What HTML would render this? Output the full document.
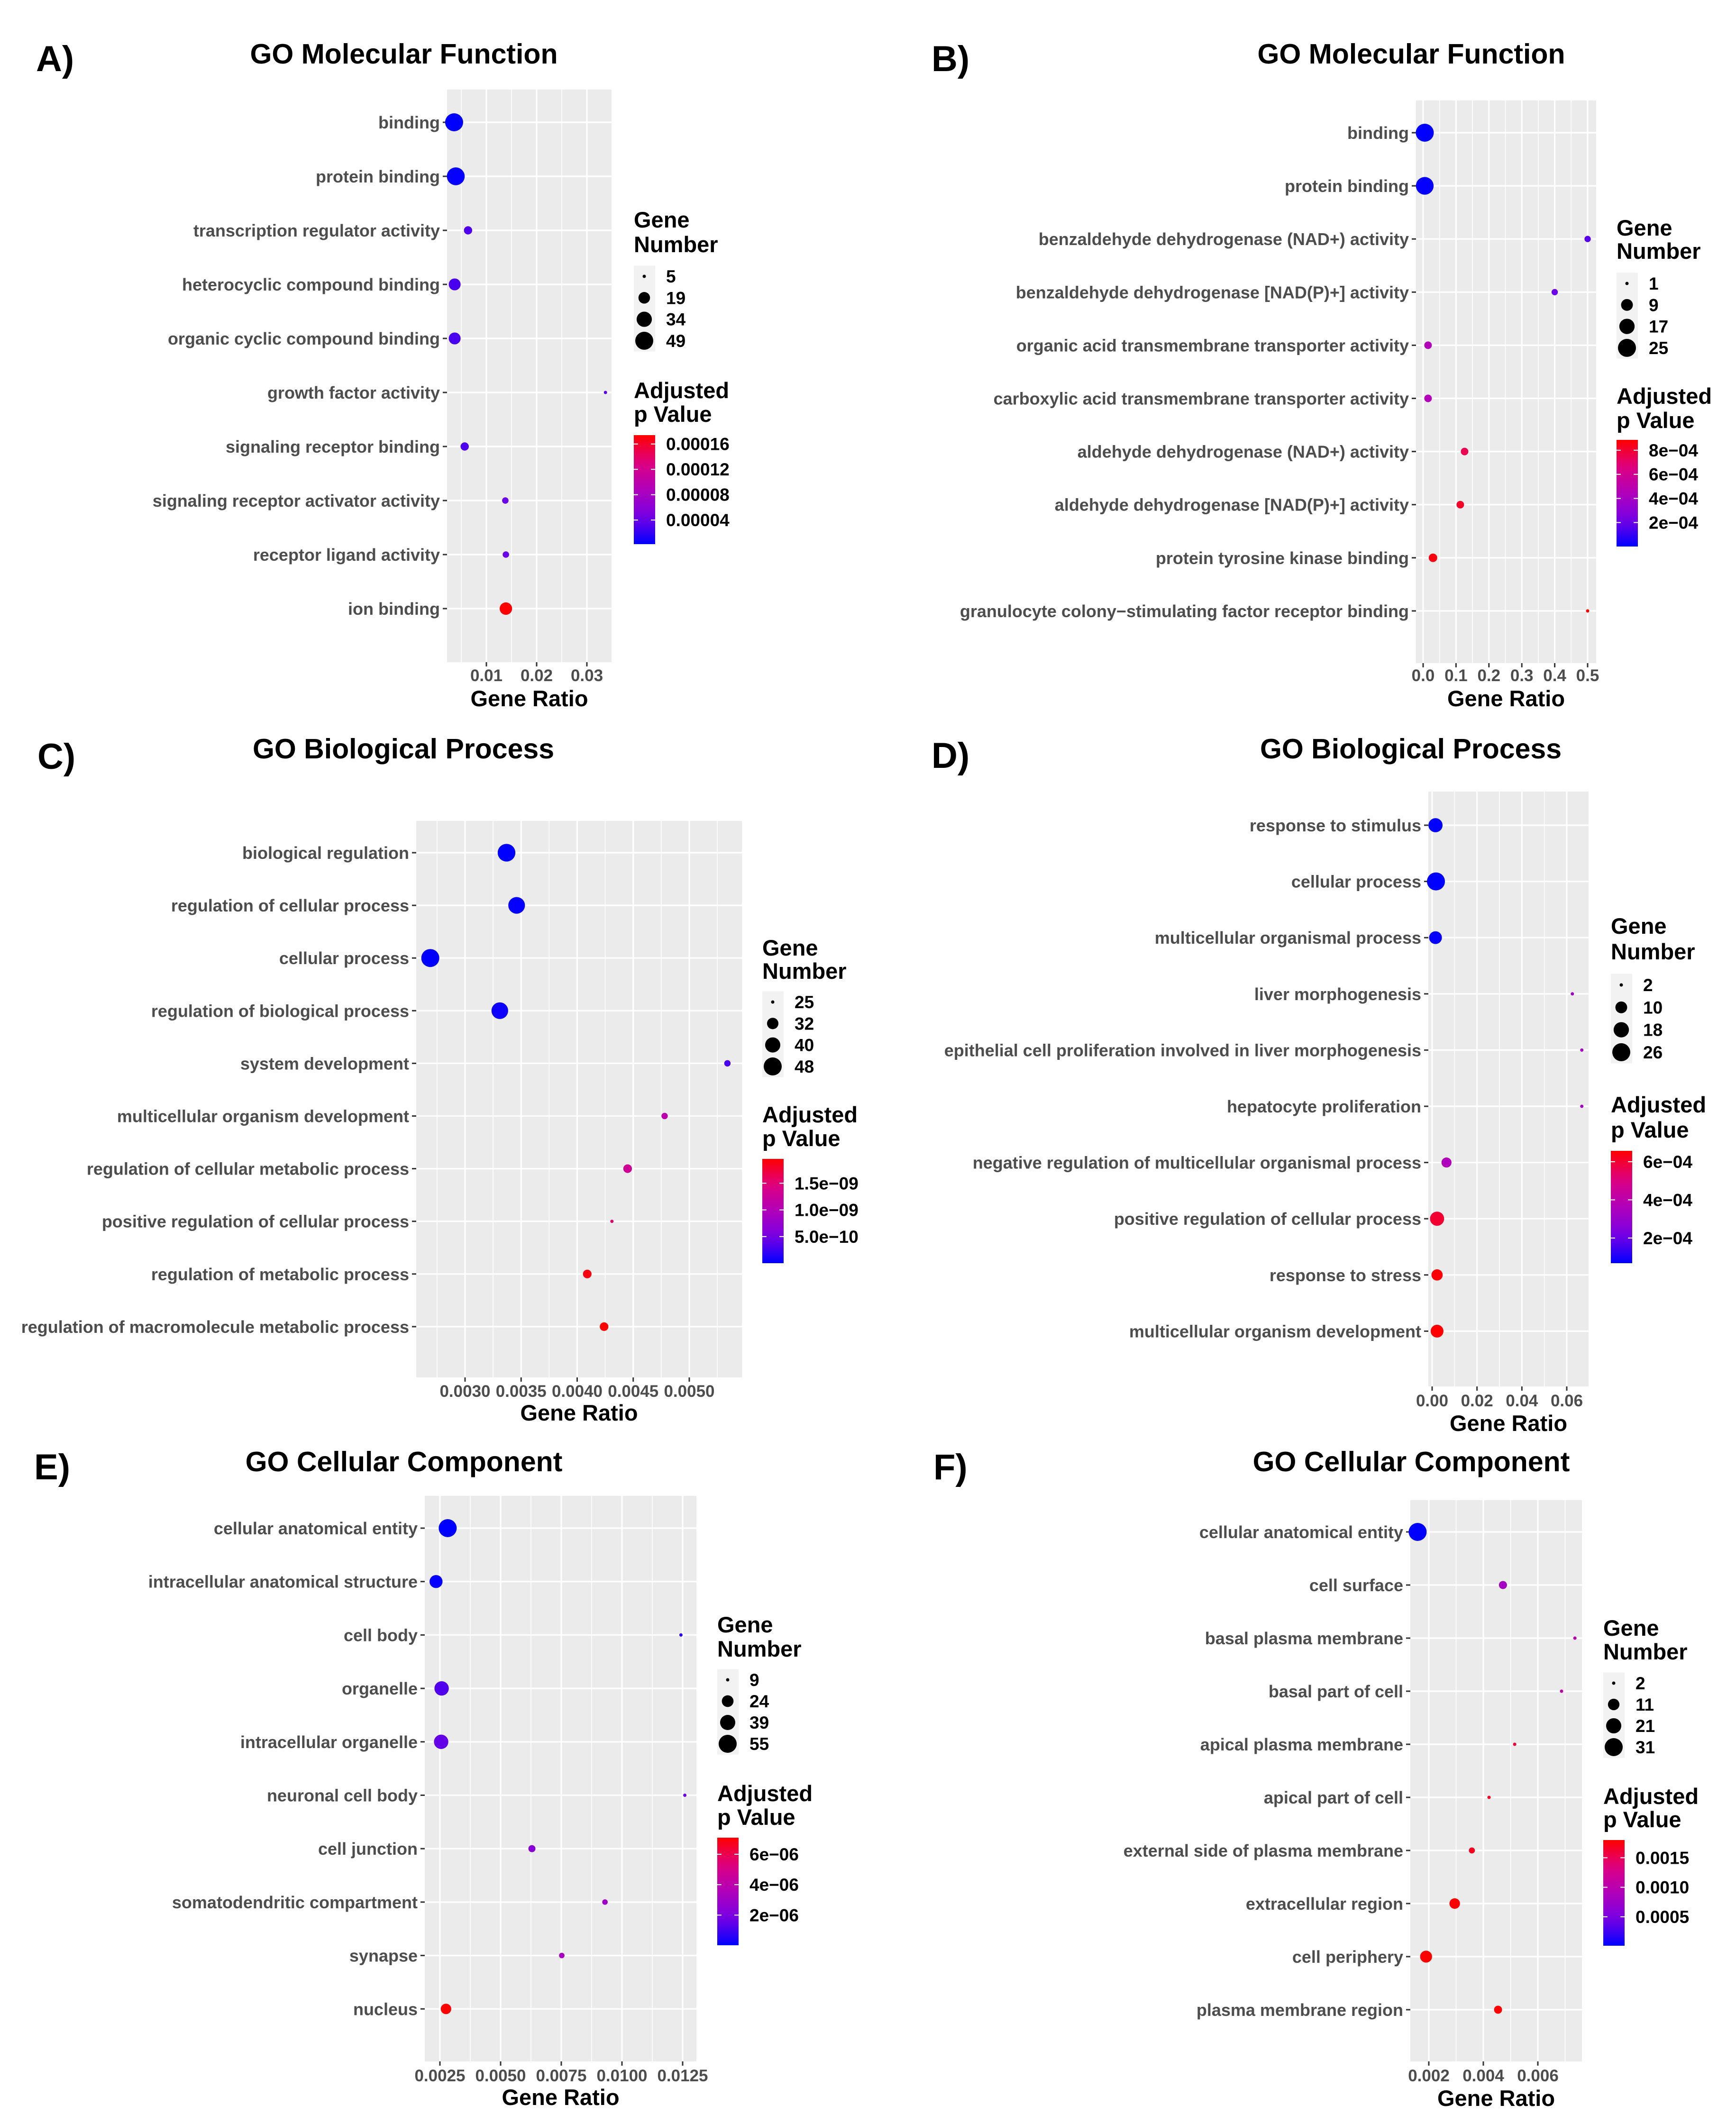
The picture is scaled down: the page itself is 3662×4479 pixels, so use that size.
<!DOCTYPE html>
<html><head><meta charset="utf-8"><title>GO enrichment dot plots</title>
<style>html,body{margin:0;padding:0;background:#fff}svg{display:block}text{font-family:"Liberation Sans",Arial,sans-serif;font-weight:bold}</style>
</head><body>
<svg id="fig" xmlns="http://www.w3.org/2000/svg" width="3662" height="4479" viewBox="0 0 3662 4479">
<defs id="defs"></defs>
</svg>
<script>
// ---------- Panel A data ----------
const catsA = ["binding","protein binding","transcription regulator activity","heterocyclic compound binding","organic cyclic compound binding","growth factor activity","signaling receptor binding","signaling receptor activator activity","receptor ligand activity","ion binding"];
const ratioA = [0.00358,0.00391,0.00635,0.00369,0.00369,0.0337,0.00568,0.01377,0.01388,0.01388];
const genesA = [49,48,10,20,20,5,10,7,7,22];
const padjA = [0.000002,0.000004,0.00003,0.000028,0.000028,0.000035,0.00003,0.00004,0.00004,0.000174];
const xTicksA = [0.01,0.02,0.03];
const xTickLabelsA = ["0.01","0.02","0.03"];
const sizeBreaksA = [5,19,34,49];
const colorBreaksA = [0.00004,0.00008,0.00012,0.00016];
const colorLabelsA = ["0.00004","0.00008","0.00012","0.00016"];
// ---------- Panel B data ----------
const catsB = ["binding","protein binding","benzaldehyde dehydrogenase (NAD+) activity","benzaldehyde dehydrogenase [NAD(P)+] activity","organic acid transmembrane transporter activity","carboxylic acid transmembrane transporter activity","aldehyde dehydrogenase (NAD+) activity","aldehyde dehydrogenase [NAD(P)+] activity","protein tyrosine kinase binding","granulocyte colony\u2212stimulating factor receptor binding"];
const ratioB = [0.005,0.005,0.5,0.4,0.015,0.015,0.126,0.113,0.03,0.5];
const genesB = [25,24,2,2,3,3,3,3,4,1];
const padjB = [0.000001,0.00001,0.00016,0.0002,0.00045,0.00045,0.00075,0.00082,0.00086,0.000886];
const xTicksB = [0,0.1,0.2,0.3,0.4,0.5];
const xTickLabelsB = ["0.0","0.1","0.2","0.3","0.4","0.5"];
const sizeBreaksB = [1,9,17,25];
const colorBreaksB = [0.0002,0.0004,0.0006,0.0008];
const colorLabelsB = ["2e\u221204","4e\u221204","6e\u221204","8e\u221204"];
// ---------- Panel C data ----------
const catsC = ["biological regulation","regulation of cellular process","cellular process","regulation of biological process","system development","multicellular organism development","regulation of cellular metabolic process","positive regulation of cellular process","regulation of metabolic process","regulation of macromolecule metabolic process"];
const ratioC = [0.00337,0.00346,0.00269,0.00331,0.00534,0.00478,0.00445,0.00431,0.00409,0.00424];
const genesC = [47,44,48,44,26,26,28,25,28,28];
const padjC = [1e-12,2e-11,3e-12,5e-11,3e-10,1.1e-9,1.3e-9,1.55e-9,1.9e-9,1.956e-9];
const xTicksC = [0.003,0.0035,0.004,0.0045,0.005];
const xTickLabelsC = ["0.0030","0.0035","0.0040","0.0045","0.0050"];
const sizeBreaksC = [25,32,40,48];
const colorBreaksC = [5e-10,1e-9,1.5e-9];
const colorLabelsC = ["5.0e\u221210","1.0e\u221209","1.5e\u221209"];
// ---------- Panel D data ----------
const catsD = ["response to stimulus","cellular process","multicellular organismal process","liver morphogenesis","epithelial cell proliferation involved in liver morphogenesis","hepatocyte proliferation","negative regulation of multicellular organismal process","positive regulation of cellular process","response to stress","multicellular organism development"];
const ratioD = [0.0015,0.0017,0.0015,0.0625,0.0667,0.0667,0.0064,0.0022,0.0022,0.0022];
const genesD = [15,26,12,2,2,2,7,15,9,12];
const padjD = [0.00007,0.000068,0.000075,0.00032,0.00033,0.00033,0.00036,0.0006,0.00065,0.000657];
const xTicksD = [0,0.02,0.04,0.06];
const xTickLabelsD = ["0.00","0.02","0.04","0.06"];
const sizeBreaksD = [2,10,18,26];
const colorBreaksD = [0.0002,0.0004,0.0006];
const colorLabelsD = ["2e\u221204","4e\u221204","6e\u221204"];
// ---------- Panel E data ----------
const catsE = ["cellular anatomical entity","intracellular anatomical structure","cell body","organelle","intracellular organelle","neuronal cell body","cell junction","somatodendritic compartment","synapse","nucleus"];
const ratioE = [0.00282,0.00234,0.01243,0.00257,0.00255,0.01259,0.00629,0.0093,0.00752,0.00275];
const genesE = [55,29,9,35,35,9,12,10,10,20];
const padjE = [0.02e-6,0.1e-6,0.6e-6,1.2e-6,1.5e-6,1.7e-6,2.3e-6,3.0e-6,3.3e-6,7.09e-6];
const xTicksE = [0.0025,0.005,0.0075,0.01,0.0125];
const xTickLabelsE = ["0.0025","0.0050","0.0075","0.0100","0.0125"];
const sizeBreaksE = [9,24,39,55];
const colorBreaksE = [2e-6,4e-6,6e-6];
const colorLabelsE = ["2e\u221206","4e\u221206","6e\u221206"];
// ---------- Panel F data ----------
const catsF = ["cellular anatomical entity","cell surface","basal plasma membrane","basal part of cell","apical plasma membrane","apical part of cell","external side of plasma membrane","extracellular region","cell periphery","plasma membrane region"];
const ratioF = [0.00159,0.00472,0.00736,0.00687,0.00515,0.00421,0.00358,0.00295,0.0019,0.00454];
const genesF = [31,5,2,2,2,2,3,9,12,5];
const padjF = [0.00001,0.0008,0.001,0.0011,0.0016,0.0017,0.0017,0.0018,0.0018,0.0018];
const xTicksF = [0.002,0.004,0.006];
const xTickLabelsF = ["0.002","0.004","0.006"];
const sizeBreaksF = [2,11,21,31];
const colorBreaksF = [0.0005,0.001,0.0015];
const colorLabelsF = ["0.0005","0.0010","0.0015"];

const NS = "http://www.w3.org/2000/svg";
const svg = document.getElementById("fig");
const defs = document.getElementById("defs");
function mk(tag, attrs, parent){
  const e = document.createElementNS(NS, tag);
  for (const k in attrs) e.setAttribute(k, attrs[k]);
  (parent || svg).appendChild(e);
  return e;
}
function colorFor(t){
  t = Math.max(0, Math.min(1, t));
  const st = [[0,[0,0,255]],[0.25,[120,0,228]],[0.5,[176,0,186]],[0.75,[222,0,128]],[1,[255,0,0]]];
  for (let i=0;i<st.length-1;i++){
    if (t <= st[i+1][0]){
      const f = (t - st[i][0])/(st[i+1][0]-st[i][0]);
      const a = st[i][1], b = st[i+1][1];
      return "rgb("+a.map((v,j)=>Math.round(v+(b[j]-v)*f)).join(",")+")";
    }
  }
  return "rgb(255,0,0)";
}

function drawPanel(c, cats, ratio, genes, padj, xt, xtl, sb, cb, cl){
  const g = mk("g", {});
  
  

  const letter = mk("text", {x:c.lx, y:c.ly, "font-size":76, fill:"#000"}, g);
  letter.textContent = c.id + ")";
  
  

  const title = mk("text", {x:c.tcx, y:c.ty, "font-size":59, fill:"#000", "text-anchor":"middle"}, g);
  title.textContent = c.title;
  
  

  const bg = mk("rect", {x:c.px0, y:c.py0, width:c.px1-c.px0, height:c.py1-c.py0, fill:"#EBEBEB"}, g);
  
  

  const xAt = v => c.x0 + (v - c.v0) * (c.x1 - c.x0) / (c.v1 - c.v0);
  const yAt = i => c.cy0 + i * c.cstep;

  const step = xt[1] - xt[0];
  for (let k = -4; k < xt.length + 4; k++){
    const v = xt[0] + (k + 0.5) * step;
    const x = xAt(v);
    if (x > c.px0 + 1 && x < c.px1 - 1){
      const ml = mk("line", {x1:x, x2:x, y1:c.py0, y2:c.py1, stroke:"#fff", "stroke-width":1.6}, g);
      
      
    }
  }
  xt.forEach((v, i) => {
    const x = xAt(v);
    const gl = mk("line", {x1:x, x2:x, y1:c.py0, y2:c.py1, stroke:"#fff", "stroke-width":3.2}, g);
    
    
    const tm = mk("line", {x1:x, x2:x, y1:c.py1, y2:c.py1 + 9, stroke:"#333", "stroke-width":3}, g);
    
    
    const tl = mk("text", {x:x, y:c.tly + 12, "font-size":35, fill:"#4D4D4D", "text-anchor":"middle"}, g);
    tl.textContent = xtl[i];
    
    
  });
  cats.forEach((name, i) => {
    const y = yAt(i);
    const hl = mk("line", {x1:c.px0, x2:c.px1, y1:y, y2:y, stroke:"#fff", "stroke-width":3.2}, g);
    
    
    const tm = mk("line", {x1:c.px0 - 9, x2:c.px0, y1:y, y2:y, stroke:"#333", "stroke-width":3}, g);
    
    
    const lab = mk("text", {x:c.px0 - 15, y:y + 13, "font-size":36, fill:"#4D4D4D", "text-anchor":"end"}, g);
    lab.textContent = name;
    
    
  });
  const at = mk("text", {x:(c.px0 + c.px1)/2, y:c.aty + 17, "font-size":47, fill:"#000", "text-anchor":"middle"}, g);
  at.textContent = "Gene Ratio";
  
  

  const nmin = Math.min(...genes), nmax = Math.max(...genes);
  const rOf = n => 3.5 + 15.5 * Math.sqrt(Math.max(0, (n - nmin) / (nmax - nmin)));
  const pmin = Math.min(...padj), pmax = Math.max(...padj);
  const tOf = p => (p - pmin) / (pmax - pmin);

  cats.forEach((name, i) => {
    const d = mk("circle", {cx:xAt(ratio[i]), cy:yAt(i), r:rOf(genes[i]), fill:colorFor(tOf(padj[i]))}, g);
    
    
  });

  const lg = mk("g", {}, g);
  
  
  const t1 = mk("text", {x:c.lgx, y:c.gt + 17, "font-size":47, fill:"#000"}, lg);
  t1.textContent = "Gene";
  
  
  const t2 = mk("text", {x:c.lgx, y:c.gt + c.gtStep + 17, "font-size":47, fill:"#000"}, lg);
  t2.textContent = "Number";
  
  
  const kb = mk("rect", {x:c.lgx, y:c.k0 - c.kstep/2, width:45, height:c.kstep * sb.length, fill:"#F2F2F2"}, lg);
  
  
  sb.forEach((n, i) => {
    const y = c.k0 + i * c.kstep;
    const kd = mk("circle", {cx:c.lgx + 22, cy:y, r:rOf(n), fill:"#000"}, lg);
    
    
    const kt = mk("text", {x:c.lgx + 68, y:y + 13, "font-size":37, fill:"#000"}, lg);
    kt.textContent = String(n);
    
    
  });

  const cg = mk("g", {}, g);
  
  
  const a1 = mk("text", {x:c.lgx, y:c.at + 17, "font-size":47, fill:"#000"}, cg);
  a1.textContent = "Adjusted";
  
  
  const a2 = mk("text", {x:c.lgx, y:c.at + c.atStep + 17, "font-size":47, fill:"#000"}, cg);
  a2.textContent = "p Value";
  
  
  const gid = "grad" + c.id;
  const lgr = mk("linearGradient", {id:gid, x1:0, y1:1, x2:0, y2:0}, defs);
  for (let s = 0; s <= 10; s++) mk("stop", {offset:s/10, "stop-color":colorFor(s/10)}, lgr);
  const bar = mk("rect", {x:c.lgx, y:c.b0, width:45, height:c.b1 - c.b0, fill:"url(#" + gid + ")"}, cg);
  
  
  cb.forEach((p, i) => {
    const y = c.b1 - tOf(p) * (c.b1 - c.b0);
    const w1 = mk("line", {x1:c.lgx, x2:c.lgx + 9, y1:y, y2:y, stroke:"#fff", "stroke-width":2}, cg);
    
    
    const w2 = mk("line", {x1:c.lgx + 36, x2:c.lgx + 45, y1:y, y2:y, stroke:"#fff", "stroke-width":2}, cg);
    
    
    const ct = mk("text", {x:c.lgx + 68, y:y + 13, "font-size":37, fill:"#000"}, cg);
    ct.textContent = cl[i];
    
    
  });
}

drawPanel({id:"A", title:"GO Molecular Function", lx:76, ly:150, tcx:852, ty:134,
  px0:943, px1:1290, py0:189, py1:1397, v0:0.01, x0:1026, v1:0.03, x1:1238,
  cy0:258, cstep:114, tly:1425, aty:1473,
  lgx:1337, gt:463, gtStep:52, k0:583, kstep:45.3, at:823, atStep:50, b0:918, b1:1148},
  catsA, ratioA, genesA, padjA, xTicksA, xTickLabelsA, sizeBreaksA, colorBreaksA, colorLabelsA);

drawPanel({id:"B", title:"GO Molecular Function", lx:1965, ly:150, tcx:2977, ty:134,
  px0:2987, px1:3367, py0:212, py1:1399, v0:0, x0:3002, v1:0.5, x1:3349,
  cy0:280, cstep:112.1, tly:1425, aty:1473,
  lgx:3410, gt:480, gtStep:49, k0:598, kstep:45.3, at:835, atStep:51, b0:928, b1:1153},
  catsB, ratioB, genesB, padjB, xTicksB, xTickLabelsB, sizeBreaksB, colorBreaksB, colorLabelsB);

drawPanel({id:"C", title:"GO Biological Process", lx:79, ly:1622, tcx:851, ty:1600,
  px0:878, px1:1565, py0:1732, py1:2906, v0:0.003, x0:981, v1:0.005, x1:1454,
  cy0:1799, cstep:111.1, tly:2935, aty:2980,
  lgx:1608, gt:1999, gtStep:49, k0:2114, kstep:45.3, at:2351, atStep:50, b0:2445, b1:2665},
  catsC, ratioC, genesC, padjC, xTicksC, xTickLabelsC, sizeBreaksC, colorBreaksC, colorLabelsC);

drawPanel({id:"D", title:"GO Biological Process", lx:1965, ly:1620, tcx:2976, ty:1600,
  px0:3013, px1:3351, py0:1670, py1:2925, v0:0, x0:3021, v1:0.06, x1:3305,
  cy0:1741, cstep:118.6, tly:2955, aty:3002,
  lgx:3398, gt:1953, gtStep:54, k0:2078, kstep:47.3, at:2330, atStep:53, b0:2428, b1:2665},
  catsD, ratioD, genesD, padjD, xTicksD, xTickLabelsD, sizeBreaksD, colorBreaksD, colorLabelsD);

drawPanel({id:"E", title:"GO Cellular Component", lx:72, ly:3121, tcx:852, ty:3104,
  px0:896, px1:1469, py0:3156, py1:4349, v0:0.0025, x0:928, v1:0.0125, x1:1440,
  cy0:3224, cstep:112.7, tly:4379, aty:4424,
  lgx:1513, gt:3427, gtStep:51, k0:3544, kstep:45, at:3783, atStep:50, b0:3877, b1:4104},
  catsE, ratioE, genesE, padjE, xTicksE, xTickLabelsE, sizeBreaksE, colorBreaksE, colorLabelsE);

drawPanel({id:"F", title:"GO Cellular Component", lx:1969, ly:3121, tcx:2977, ty:3104,
  px0:2975, px1:3337, py0:3165, py1:4349, v0:0.002, x0:3014, v1:0.006, x1:3244,
  cy0:3232, cstep:112.0, tly:4379, aty:4426,
  lgx:3382, gt:3434, gtStep:50, k0:3551, kstep:45, at:3789, atStep:49, b0:3882, b1:4105},
  catsF, ratioF, genesF, padjF, xTicksF, xTickLabelsF, sizeBreaksF, colorBreaksF, colorLabelsF);
</script>
</body></html>
